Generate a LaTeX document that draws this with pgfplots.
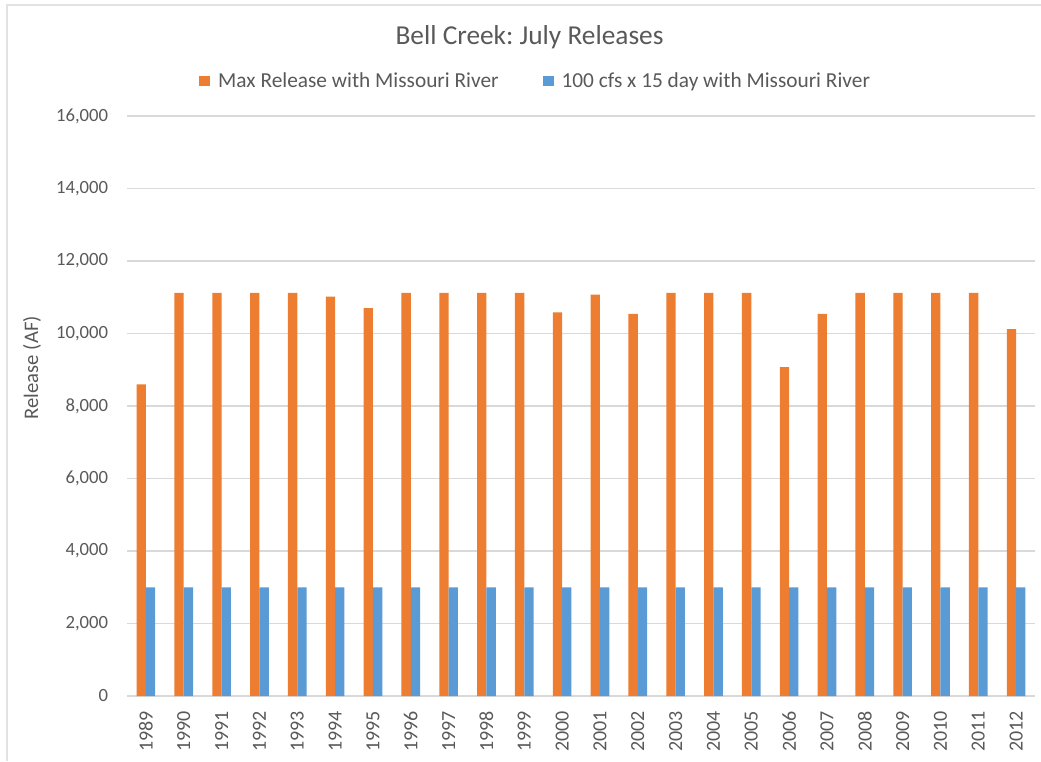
\documentclass[border=0pt]{standalone}
\usepackage{pgfplots}
\pgfplotsset{compat=1.18}
\usepackage{fontspec}
\setmainfont{Carlito}
\frenchspacing
\definecolor{xlorange}{HTML}{ED7D31}
\definecolor{xlblue}{HTML}{5B9BD5}
\definecolor{txtgray}{HTML}{595959}
\definecolor{gridgray}{HTML}{D9D9D9}
\definecolor{framegray}{HTML}{E2E2E2}
\pgfplotstableread{
x year maxrel lowrel
0 1989 8600 3000
1 1990 11120 3000
2 1991 11120 3000
3 1992 11120 3000
4 1993 11120 3000
5 1994 11020 3000
6 1995 10700 3000
7 1996 11120 3000
8 1997 11120 3000
9 1998 11120 3000
10 1999 11120 3000
11 2000 10580 3000
12 2001 11070 3000
13 2002 10540 3000
14 2003 11120 3000
15 2004 11120 3000
16 2005 11120 3000
17 2006 9070 3000
18 2007 10540 3000
19 2008 11120 3000
20 2009 11120 3000
21 2010 11120 3000
22 2011 11120 3000
23 2012 10120 3000
}\datatable
\begin{document}
\begin{tikzpicture}
\begin{axis}[
  name=ax,
  at={(0,0)}, anchor=south west,
  scale only axis,
  width=681pt, height=435pt,
  ybar=0pt, bar width=7pt,
  xmin=-0.5, xmax=23.5,
  ymin=0, ymax=16000,
  enlargelimits=false,
  xtick=data,
  xticklabels={1989,1990,1991,1992,1993,1994,1995,1996,1997,1998,1999,2000,2001,2002,2003,2004,2005,2006,2007,2008,2009,2010,2011,2012},
  ytick={0,2000,4000,6000,8000,10000,12000,14000,16000},
  major tick length=0pt,
  axis line style={draw=none},
  ymajorgrids,
  grid style={gridgray, line width=1pt},
  /pgf/number format/assume math mode=true,
  /pgf/number format/1000 sep={,},
  scaled y ticks=false,
  yticklabel style={font=\fontsize{14}{16}\selectfont, text=txtgray, inner sep=0pt, anchor=east, xshift=-14pt},
  xticklabel style={font=\fontsize{15}{17}\selectfont, text=txtgray, rotate=90, inner sep=0pt, anchor=east, yshift=0pt},
  xticklabel shift=11pt,
  ylabel={Release (AF)},
  ylabel style={font=\fontsize{15.5}{18}\selectfont, text=txtgray, at={(axis description cs:-0.1046,0.566)}, anchor=center, rotate=0},
  title={Bell Creek: July Releases},
  title style={font=\fontsize{20.5}{24}\selectfont, text=txtgray, at={(axis description cs:0.4433,1.1259)}, anchor=base, yshift=-7pt},
  legend columns=2,
  legend style={at={(axis description cs:0.4504,1.0603)}, anchor=center, draw=none, fill=none,
    font=\fontsize{16}{19}\selectfont, text=txtgray,
    /tikz/every even column/.append style={column sep=31pt},
    /tikz/every odd column/.append style={column sep=4pt}},
  legend image code/.code={\fill[#1] (0pt,-4.1pt) rectangle (8.2pt,4.1pt);},
  legend cell align=left,
]
\addplot[fill=xlorange, draw=none] table[x=x, y=maxrel] {\datatable};
\addlegendentry{Max Release with Missouri River}
\addplot[fill=xlblue, draw=none] table[x=x, y=lowrel] {\datatable};
\addlegendentry{100 cfs x 15 day with Missouri River}
\end{axis}
\draw[framegray, line width=1.5pt] (-90pt,-48.75pt) -- (-90pt,518.25pt) -- (685.5pt,518.25pt);
\pgfresetboundingbox
\path[use as bounding box] (-95.25pt,-48.75pt) rectangle (685.5pt,522pt);
\end{tikzpicture}
\end{document}
